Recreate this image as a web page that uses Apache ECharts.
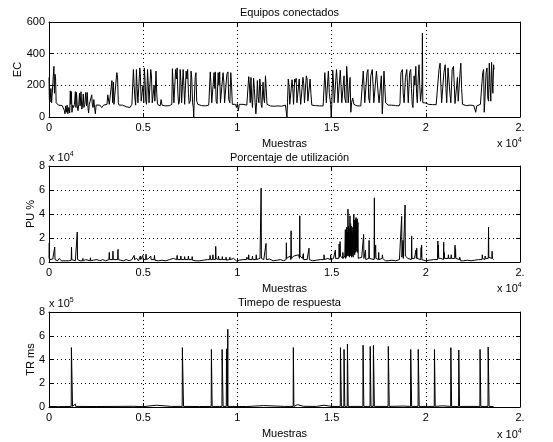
<!DOCTYPE html>
<html>
<head>
<meta charset="utf-8">
<script src="https://cdn.jsdelivr.net/npm/echarts@6/dist/echarts.min.js"></script>
<style>
html,body{margin:0;padding:0;background:#fff;}
#c{width:553px;height:442px;}
</style>
</head>
<body>
<div id="c"></div>
<script>
// ---- tick labels ----
const xTickLabels = ['0','0.5','1','1.5','2','2.'];
const ecTickLabels = ['0','200','400','600'];
const puTickLabels = ['0','2','4','6','8'];
const trTickLabels = ['0','2','4','6','8'];
const titles = ['Equipos conectados','Porcentaje de utilización','Timepo de respuesta'];
const yNames = ['EC','PU %','TR ms'];

// ---- EC: equipos conectados [muestra, valor] ----
const ecPoints = [
[0,250],[20,110],[60,95],[100,180],[140,90],[200,100],[260,320],[290,150],[320,270],[350,240],[380,90],[420,80],[500,75],[600,70],[700,72],[780,60],[820,40],[850,20],[880,70],[920,30],[960,75],[1000,20],[1050,60],[1100,25],[1130,165],[1160,80],[1190,160],[1220,30],[1250,75],[1300,60],[1350,80],[1400,160],[1430,60],[1460,155],[1500,70],[1540,40],[1580,80],[1620,150],[1650,70],[1700,160],[1740,50],[1780,75],[1820,145],[1850,60],[1900,80],[1950,155],[1990,70],[2030,155],[2070,60],[2100,25],[2140,80],[2200,70],[2270,140],[2300,75],[2340,60],[2380,110],[2420,60],[2460,20],[2500,75],[2600,70],[2700,75],[2800,60],[2900,75],[3000,70],[3080,80],[3120,140],[3160,130],[3200,80],[3260,75],
[3300,85],[3340,230],[3380,90],[3420,220],[3450,80],[3520,90],[3600,280],[3640,250],[3680,90],[3720,75],[3800,70],[3900,75],[4000,70],[4100,65],[4200,70],[4300,60],[4360,50],[4400,80],
[4450,70],[4480,300],[4520,200],[4560,120],[4600,75],[4640,300],[4680,180],[4720,90],[4780,80],[4820,310],[4850,270],[4890,100],[4940,90],[4990,200],[5030,90],[5060,310],[5100,230],[5140,100],[5180,80],[5230,300],[5270,200],[5310,90],[5360,100],[5400,300],[5440,260],[5480,90],[5540,85],[5580,200],[5620,100],[5680,290],[5720,150],[5760,80],
[5800,75],[5900,70],[5950,110],[6000,75],[6100,70],[6200,70],[6300,68],[6400,72],[6480,70],
[6520,80],[6550,305],[6590,200],[6630,90],[6690,80],[6720,300],[6760,240],[6800,310],[6840,150],[6880,80],[6930,100],[6960,300],[7000,230],[7040,90],[7090,100],[7120,300],[7160,200],[7200,80],[7250,90],[7280,290],[7320,240],[7360,300],[7400,150],[7440,85],[7500,100],[7540,290],[7580,240],[7620,90],[7660,60],[7680,0],[7700,70],[7760,250],[7800,280],[7840,100],[7900,80],
[8000,75],[8100,72],[8200,75],[8300,70],[8400,72],[8480,75],
[8520,80],[8560,285],[8600,200],[8640,90],[8700,80],[8760,280],[8800,180],[8830,285],[8870,100],[8920,85],[8980,280],[9020,200],[9060,285],[9100,90],[9160,85],[9240,280],[9280,220],[9320,90],[9380,85],[9440,270],[9500,285],[9540,110],[9600,90],[9650,280],[9690,200],[9730,80],
[9800,75],[9900,80],[9950,60],[10000,85],[10050,40],[10100,80],[10200,75],[10300,80],[10400,70],[10500,75],
[10580,80],[10600,255],[10640,200],[10680,90],[10720,250],[10760,120],[10800,60],[10860,245],[10900,180],[10940,90],[10980,20],[11020,90],[11060,230],[11100,130],[11140,90],[11190,240],[11220,200],[11260,80],[11300,60],[11360,220],[11400,120],[11440,90],[11490,260],[11530,180],[11570,80],
[11650,75],[11750,70],[11850,72],[11950,68],[12050,75],[12150,70],[12250,72],[12350,68],[12450,70],[12550,75],
[12600,80],[12630,0],[12660,90],[12700,240],[12740,200],[12780,80],[12840,90],[12900,235],[12940,180],[12980,80],[13040,240],[13080,220],[13120,245],[13160,90],[13220,85],[13280,240],[13320,150],[13360,80],[13420,90],[13480,250],[13520,210],[13560,90],[13620,80],[13660,260],[13700,240],[13740,100],[13800,90],[13860,240],[13900,150],[13950,75],
[14050,70],[14150,72],[14250,68],[14350,70],[14450,75],[14550,70],
[14600,80],[14640,280],[14680,200],[14720,90],[14780,85],[14830,290],[14880,150],[14950,80],[14980,0],[15010,80],[15060,295],[15100,220],[15140,90],[15200,100],[15260,300],[15300,230],[15340,90],[15400,90],[15460,295],[15500,200],[15540,90],[15600,100],[15660,260],[15700,120],[15760,90],[15800,320],[15840,240],[15880,90],[15940,80],[15980,250],[16020,30],[16060,90],[16120,120],[16180,80],
[16250,72],[16350,70],[16450,75],[16550,70],
[16630,80],[16680,290],[16720,200],[16760,90],[16820,85],[16880,280],[16930,300],[16970,120],[17020,90],[17080,260],[17160,300],[17200,200],[17240,90],[17300,85],[17380,290],[17430,300],[17470,150],[17520,90],[17580,85],[17640,260],[17690,20],[17720,90],[17780,290],[17820,200],[17870,90],[17930,80],
[18000,75],[18100,72],[18200,75],[18300,70],[18400,72],[18500,75],[18580,70],
[18630,85],[18680,280],[18760,300],[18800,150],[18850,90],[18920,250],[18990,300],[19030,200],[19070,90],[19140,280],[19200,300],[19240,180],[19280,80],[19320,60],[19380,260],[19420,200],[19470,320],[19510,150],[19550,90],[19600,250],[19640,330],[19680,200],[19720,100],[19760,90],[19800,200],[19820,530],[19840,90],[19880,85],
[19950,90],[20050,80],[20150,80],[20250,75],[20350,78],[20450,75],[20550,78],
[20620,80],[20700,300],[20760,340],[20800,200],[20840,90],[20900,85],[20960,280],[21030,330],[21070,180],[21110,90],[21180,310],[21240,320],[21280,150],[21330,90],[21400,300],[21470,320],[21510,200],[21550,85],[21620,90],[21680,250],[21720,100],[21780,90],[21830,300],[21860,340],[21900,180],[21950,80],
[22050,75],[22150,72],[22250,70],[22350,75],[22450,70],[22550,72],[22650,30],[22700,70],[22800,75],[22900,80],
[22980,80],[23020,280],[23070,300],[23100,30],[23130,90],[23200,280],[23250,310],[23290,120],[23330,100],[23370,340],[23410,200],[23450,100],[23490,345],[23530,220],[23560,150],[23600,330],[23620,300]
];

// ---- PU: porcentaje de utilizacion (x 10^4) ----
const puPoints = [
[0,0.3],[15,1.6],[30,0.2],[120,0.1],[200,0.25],[290,0.1],[305,1.25],[320,0.2],[450,0.1],[550,0.3],[650,0.1],[750,0.25],[850,0.1],[950,0.2],[1050,0.1],[1180,0.15],[1195,1.25],[1210,0.2],[1300,0.15],[1400,0.1],[1485,0.2],[1500,2.5],[1515,0.2],[1650,0.1],[1780,0.1],[1800,0.3],[1820,0.1],[1950,0.2],[2050,0.1],[2180,0.1],[2200,0.35],[2220,0.1],[2350,0.15],[2450,0.1],[2550,0.2],[2700,0.1],[2850,0.2],[3000,0.1],[3100,0.2],[3180,0.2],[3200,0.8],[3220,0.2],[3300,0.3],[3380,0.2],[3395,0.9],[3410,0.2],[3500,0.3],[3645,0.2],[3660,1.05],[3675,0.2],[3800,0.15],[3950,0.1],[4100,0.2],[4250,0.1],[4400,0.2],[4500,0.15],[4520,0.55],[4540,0.2],[4650,0.3],[4750,0.1],[4830,0.2],[4850,0.5],[4870,0.2],[4960,0.2],[4980,0.55],[5000,0.2],[5100,0.3],[5130,0.2],[5150,0.65],[5170,0.2],[5300,0.3],[5380,0.2],[5400,0.5],[5420,0.2],[5580,0.2],[5600,0.55],[5620,0.15],[5800,0.1],[6000,0.15],[6200,0.1],[6400,0.2],[6600,0.3],[6780,0.2],[6800,0.55],[6820,0.2],[6980,0.2],[7000,0.5],[7020,0.2],[7180,0.2],[7200,0.45],[7220,0.2],[7380,0.2],[7400,0.5],[7420,0.2],[7580,0.2],[7600,0.45],[7620,0.15],[7800,0.1],[8000,0.1],[8200,0.15],[8400,0.2],[8530,0.2],[8550,0.55],[8570,0.2],[8680,0.2],[8700,0.6],[8720,0.2],[8835,0.2],[8850,1.3],[8865,0.3],[8980,0.2],[9000,0.5],[9020,0.2],[9180,0.2],[9200,0.45],[9220,0.2],[9380,0.2],[9400,0.4],[9420,0.15],[9580,0.2],[9600,0.4],[9620,0.2],[9800,0.3],[9950,0.1],[10100,0.15],[10300,0.2],[10480,0.2],[10500,0.4],[10580,0.2],[10600,0.6],[10620,0.2],[10780,0.2],[10800,0.5],[10820,0.2],[10980,0.2],[11000,0.6],[11020,0.2],[11200,0.3],[11245,0.2],[11260,6.15],[11275,0.3],[11400,0.2],[11505,0.2],[11520,1.55],[11535,0.2],[11700,0.25],[11900,0.1],[12100,0.15],[12300,0.2],[12450,0.1],[12585,0.2],[12600,1.6],[12615,0.3],[12800,0.5],[12835,0.2],[12850,2.6],[12865,0.3],[13000,0.5],[13100,0.4],[13250,0.6],[13295,0.3],[13310,3.85],[13325,0.5],[13450,0.3],[13485,0.3],[13500,0.7],[13515,0.2],[13700,0.2],[13785,0.2],[13800,1.15],[13815,0.2],[14000,0.1],[14200,0.15],[14400,0.2],[14585,0.2],[14600,0.6],[14615,0.2],[14800,0.3],[14935,0.2],[14950,0.6],[14965,0.2],[15100,0.3],[15185,0.3],[15200,1.0],[15215,0.3],[15385,0.3],[15400,1.5],[15420,0.4],[15450,1.7],[15470,0.5],[15585,0.3],[15600,0.8],[15620,0.3],
[15700,0.5],[15730,2.7],[15745,0.3],[15760,1.8],[15775,0.4],[15800,2.9],[15815,0.5],[15830,2.5],[15845,0.6],[15870,4.4],[15880,0.5],[15895,3.0],[15910,0.8],[15930,2.8],[15945,0.4],[15975,3.85],[15990,0.6],[16010,3.2],[16025,0.5],[16040,3.0],[16055,0.4],[16070,2.6],[16085,0.5],[16100,2.4],[16115,0.7],[16130,2.9],[16145,0.4],[16160,3.1],[16180,4.0],[16195,0.8],[16210,3.5],[16225,0.6],[16240,3.0],[16255,1.0],[16270,3.6],[16285,0.8],[16300,3.7],[16315,1.2],[16330,3.4],[16345,0.9],[16360,3.6],[16375,0.8],[16390,3.0],[16400,3.3],[16415,0.3],[16500,0.2],[16600,0.4],
[16685,0.3],[16700,2.3],[16715,0.3],[16785,0.2],[16800,1.0],[16815,0.2],[16975,0.3],[16990,1.8],[17005,0.3],[17100,0.2],[17255,0.2],[17270,5.35],[17285,0.3],[17325,0.3],[17340,1.4],[17355,0.3],[17485,0.2],[17500,0.8],[17515,0.2],[17685,0.3],[17700,0.6],[17715,0.3],[17785,0.2],[17800,0.4],[17850,0.1],[18000,0.1],[18200,0.15],[18400,0.1],[18600,0.2],[18705,0.2],[18720,3.8],[18735,0.4],[18775,0.3],[18790,1.8],[18805,0.3],[18885,0.3],[18900,4.75],[18915,0.5],[19000,0.6],[19050,0.3],[19100,0.4],[19150,0.2],[19235,0.2],[19250,2.15],[19265,0.3],[19400,0.3],[19465,0.3],[19480,1.0],[19500,0.3],[19520,1.15],[19535,0.3],[19735,0.2],[19750,1.2],[19765,0.4],[19780,1.4],[19795,0.2],[19900,0.2],[20000,0.1],[20200,0.15],[20400,0.2],[20625,0.2],[20640,1.75],[20655,0.4],[20670,1.4],[20685,0.3],[20800,0.3],[20935,0.2],[20950,1.65],[20965,0.3],[20980,0.8],[20995,0.3],[21185,0.3],[21200,0.6],[21215,0.3],[21335,0.3],[21350,0.6],[21365,0.3],[21535,0.3],[21550,1.4],[21565,0.4],[21580,1.1],[21595,0.3],[21785,0.2],[21800,0.4],[21850,0.1],[22000,0.1],[22200,0.15],[22400,0.1],[22600,0.15],[22800,0.2],[22985,0.2],[23000,0.6],[23015,0.3],[23135,0.2],[23150,0.5],[23165,0.3],[23315,0.3],[23330,2.9],[23345,0.4],[23450,0.3],[23505,0.3],[23520,0.9],[23535,0.3],[23600,0.2]
];

// ---- TR: tiempo de respuesta (x 10^5) ----
const trPoints = [
[0,0.05],[500,0.03],[1180,0.05],[1190,5.0],[1240,5.0],[1250,0.05],[1400,0.25],[1420,0.05],[1500,0.1],[1520,0.03],[2500,0.04],[3500,0.05],[4500,0.06],[5000,0.03],[5700,0.15],[5720,0.03],[6500,0.05],
[7070,0.05],[7080,5.0],[7130,5.0],[7140,0.05],[8000,0.04],[8610,0.05],[8620,4.85],[8650,4.85],[8660,0.05],[9180,0.05],[9190,4.85],[9230,4.85],[9240,0.05],[9410,0.05],[9420,4.9],[9460,4.9],[9470,0.05],[9490,6.55],[9500,0.05],
[10500,0.04],[11400,0.12],[11420,0.04],[12500,0.05],[12960,0.05],[12970,5.0],[12990,5.0],[13000,0.05],[13200,0.2],[13220,0.04],[13500,0.06],[14200,0.05],[14600,0.15],[14620,0.04],[15000,0.05],
[15460,0.05],[15470,5.0],[15510,5.0],[15520,0.05],[15650,0.05],[15660,4.85],[15690,4.85],[15700,0.05],[15830,0.05],[15840,5.3],[15870,5.3],[15880,0.05],
[16660,0.05],[16670,5.2],[16700,5.2],[16710,0.05],[17040,0.05],[17050,5.1],[17080,5.1],[17090,0.05],[17210,0.05],[17220,5.2],[17260,5.2],[17270,0.05],
[18000,0.05],[18010,5.1],[18050,5.1],[18060,0.05],[18800,0.08],[19190,0.05],[19200,4.85],[19240,4.85],[19250,0.05],[19590,0.05],[19600,4.85],[19640,4.85],[19650,0.05],
[20450,0.05],[20460,4.85],[20490,4.85],[20500,0.05],[20900,0.1],[21320,0.05],[21330,5.0],[21360,5.0],[21370,0.05],[21740,0.05],[21750,4.8],[21780,4.8],[21790,0.05],[21850,0.2],[21870,0.04],
[22870,0.05],[22880,4.85],[22910,4.85],[22920,0.05],[23300,0.05],[23310,5.05],[23350,5.05],[23360,0.05],[23600,0.04]
];

const FONT = 'Liberation Sans, Arial, Helvetica, sans-serif';
const grids = [
  {left:49, top:22, width:471, height:95},
  {left:49, top:166, width:471, height:96},
  {left:49, top:312, width:471, height:95}
];
const yTickSets = [ecTickLabels, puTickLabels, trTickLabels];
const yMax = [600, 8, 8];
const yInt = [200, 2, 2];
const nameGaps = [26, 13, 13];
const dataSets = [ecPoints, puPoints, trPoints];

const dotted = {color:'#000', width:1, type:[1,3]};
const xAxes = [], yAxes = [], series = [], title = [];
grids.forEach((g, i) => {
  xAxes.push({
    gridIndex:i, type:'value', min:0, max:25000, interval:5000, position:'bottom',
    axisLine:{show:true, onZero:false, lineStyle:{color:'#000', width:1}},
    axisTick:{show:true, inside:true, length:4, lineStyle:{color:'#000'}},
    axisLabel:{color:'#000', fontSize:11, fontFamily:FONT, margin:5,
      formatter:(v)=> xTickLabels[Math.round(v/5000)]},
    splitLine:{show:true, lineStyle:dotted},
    name:'Muestras', nameLocation:'middle', nameGap:21, nameMoveOverlap:false,
    nameTextStyle:{color:'#000', fontSize:11, fontFamily:FONT}
  });
  xAxes.push({
    gridIndex:i, type:'value', min:0, max:25000, interval:5000, position:'top',
    axisLine:{show:true, onZero:false, lineStyle:{color:'#000', width:1}},
    axisTick:{show:true, inside:true, length:4, lineStyle:{color:'#000'}},
    axisLabel:{show:false}, splitLine:{show:false}
  });
  yAxes.push({
    gridIndex:i, type:'value', min:0, max:yMax[i], interval:yInt[i], position:'left',
    axisLine:{show:true, onZero:false, lineStyle:{color:'#000', width:1}},
    axisTick:{show:true, inside:true, length:4, lineStyle:{color:'#000'}},
    axisLabel:{color:'#000', fontSize:11, fontFamily:FONT, margin:4,
      formatter:(v)=> yTickSets[i][Math.round(v/yInt[i])]},
    splitLine:{show:true, lineStyle:dotted},
    name:yNames[i], nameLocation:'middle', nameRotate:90, nameGap:nameGaps[i], nameMoveOverlap:false,
    nameTextStyle:{color:'#000', fontSize:11, fontFamily:FONT}
  });
  yAxes.push({
    gridIndex:i, type:'value', min:0, max:yMax[i], interval:yInt[i], position:'right',
    axisLine:{show:true, onZero:false, lineStyle:{color:'#000', width:1}},
    axisTick:{show:true, inside:true, length:4, lineStyle:{color:'#000'}},
    axisLabel:{show:false}, splitLine:{show:false}
  });
  series.push({
    type:'line', xAxisIndex:i*2, yAxisIndex:i*2, data:dataSets[i],
    showSymbol:false, symbol:'none', silent:true, animation:false,
    lineStyle:{color:'#000', width:1}, clip:true
  });
});
const titleTops = [2, 147, 292];
titles.forEach((t, i) => title.push({
  text:t, left:284.5, top:titleTops[i], textAlign:'center',
  textStyle:{color:'#000', fontSize:11, fontWeight:'normal', fontFamily:FONT}
}));

const richStyle = {
  a:{fontSize:11, fontFamily:FONT, color:'#000'},
  b:{fontSize:7, fontFamily:FONT, color:'#000', verticalAlign:'top', padding:[0,0,6,0]}
};
function expLabel(x, y, base, p){
  return {type:'text', left:x, top:y, style:{text:'{a|' + base + '}{b|' + p + '}', rich:richStyle, fill:'#000'}};
}
const graphic = [
  expLabel(497, 137, 'x 10', '4'),
  expLabel(497, 282, 'x 10', '4'),
  expLabel(497, 428, 'x 10', '4'),
  expLabel(49, 151, 'x 10', '4'),
  expLabel(49, 297, 'x 10', '5')
];

const chart = echarts.init(document.getElementById('c'), null, {renderer:'canvas'});
chart.setOption({
  animation:false,
  backgroundColor:'#fff',
  title:title,
  grid:grids,
  xAxis:xAxes,
  yAxis:yAxes,
  series:series,
  graphic:graphic
});
</script>
</body>
</html>
